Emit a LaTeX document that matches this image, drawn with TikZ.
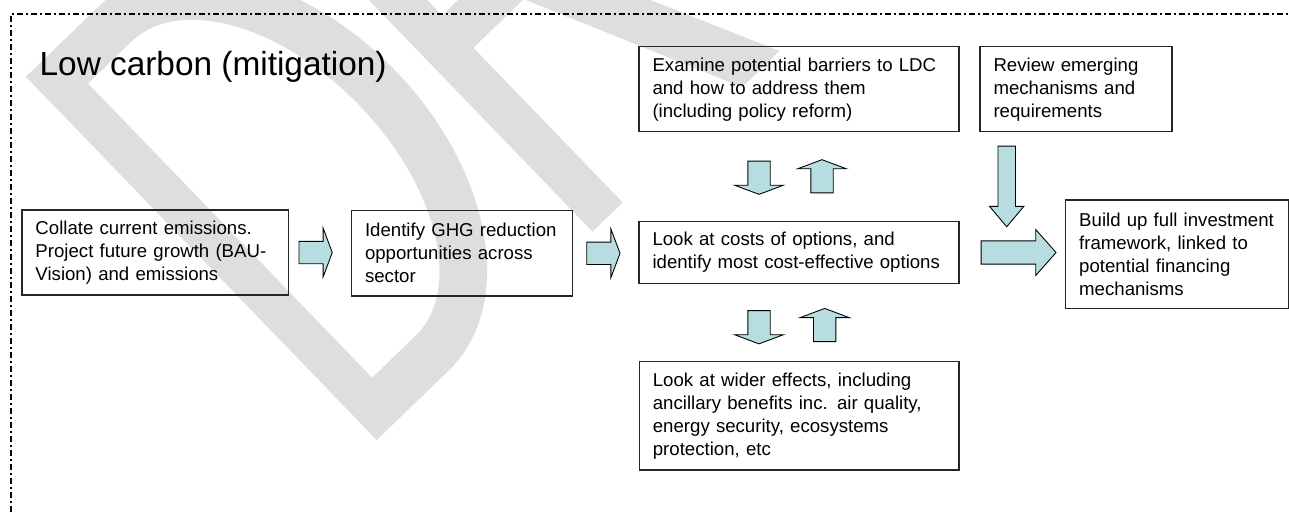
\documentclass[tikz,border=0pt]{standalone}
\usepackage{fontspec}
\setmainfont{Liberation Sans}
\usepackage{tikz}
\usepackage{xcolor}
\definecolor{arr_cyan}{RGB}{183,221,225}
\definecolor{wm_gray}{RGB}{222,222,222}
\usetikzlibrary{calc, shapes.arrows}

\tikzset{
  box/.style={draw=black!85, line width=0.75pt, align=left, inner xsep=0.27cm, inner ysep=0pt,
    font=\fontsize{10.6pt}{13.1pt}\selectfont},
  blk/.style={single arrow, draw=black, line width=0.5pt, fill=arr_cyan, inner xsep=0pt,
    minimum width=0pt, single arrow head indent=0pt, anchor=tail},
  smallblk/.style={blk, minimum height=0.665cm, inner ysep=0.215cm,
    single arrow head extend=0.265cm, single arrow tip angle=139},
}

\begin{document}
\begin{tikzpicture}[x=0.02cm,y=-0.02cm]
  \useasboundingbox (0,0) rectangle (1289,512);
  %透かし
  \begin{scope}
    \clip (0,0) rectangle (1289,512);
    \begin{scope}[shift={(376.7,440)},rotate=44,x=0.02cm,y=0.02cm]
      \fill[wm_gray,even odd rule] (0,0)--(100,0) arc[start angle=-90,end angle=90,x radius=170,y radius=252.5]--(0,505)--cycle
        (40,48)--(100,48) arc[start angle=-90,end angle=90,x radius=120,y radius=204.5]--(40,457)--cycle; %D
      \fill[wm_gray,even odd rule] (300,0)--(342,0)--(342,215)--(412,215)--(508,0)--(560,0)--(460,220)
        arc[start angle=-75,end angle=90,x radius=100,y radius=145]--(300,505)--cycle
        (342,260)--(425,260) arc[start angle=-90,end angle=90,x radius=55,y radius=102.5]--(342,465)--cycle; %R
    \end{scope}
  \end{scope}
  %枠線
  \draw[line width=1.1pt, dash pattern=on 0.12cm off 0.06cm on 0.04cm off 0.06cm] (11,512)--(11,14)--(1289,14);
  \node[anchor=base west, inner sep=0pt, font=\fontsize{19pt}{23pt}\selectfont] (title) at (39.3,75.7) {Low carbon (mitigation)};
  %ボックス
  \node[box, text width=4.794cm, minimum height=1.7cm] (collate) at (155.3,252.5)
    {Collate current emissions.\\ Project future growth (BAU-\\ Vision) and emissions};
  \node[box, text width=3.884cm, minimum height=1.706cm] (identify) at (462.1,253.3)
    {Identify GHG reduction\\ opportunities across\\ sector};
  \node[box, text width=5.86cm, minimum height=1.7cm] (examine) at (799,89.2)
    {Examine potential barriers to LDC\\ and how to address them\\ (including policy reform)};
  \node[box, text width=3.3cm, minimum height=1.7cm] (review) at (1076,89.2)
    {Review emerging\\ mechanisms and\\ requirements};
  \node[box, text width=5.86cm, minimum height=1.232cm] (costs) at (799,252.5)
    {Look at costs of options, and\\ identify most cost-effective options};
  \node[box, text width=3.912cm, minimum height=2.166cm] (build) at (1177,254.2)
    {Build up full investment\\ framework, linked to\\ potential financing\\ mechanisms};
  \node[box, text width=5.854cm, minimum height=2.166cm] (wider) at (799.2,415.9)
    {Look at wider effects, including\\ ancillary benefits inc. air quality,\\ energy security, ecosystems\\ protection, etc};
  %矢印
  \node[smallblk] (ar1) at ($(collate.east)+(9.3,0)$) {};
  \node[smallblk] (ar2) at ($(identify.east)+(13,0)$) {};
  \node[blk, minimum height=1.5cm, inner ysep=0.224cm, single arrow head extend=0.226cm,
    single arrow tip angle=97] (ar3) at ($(costs.east)+(21,0)$) {};
  \node[blk, rotate=-90, minimum height=1.614cm, inner ysep=0.166cm, single arrow head extend=0.168cm,
    single arrow tip angle=80] (ar4) at ($(review.south)+(-69.3,13.3)$) {};
  \node[smallblk, rotate=-90] (dn1) at ($(examine.south)+(-40,28.3)$) {};
  \node[smallblk, rotate=90] (up1) at ($(costs.north)+(23,-27.7)$) {};
  \node[smallblk, rotate=-90] (dn2) at ($(costs.south)+(-40,26.2)$) {};
  \node[smallblk, rotate=90] (up2) at ($(wider.north)+(25.5,-19)$) {};
\end{tikzpicture}
\end{document}
